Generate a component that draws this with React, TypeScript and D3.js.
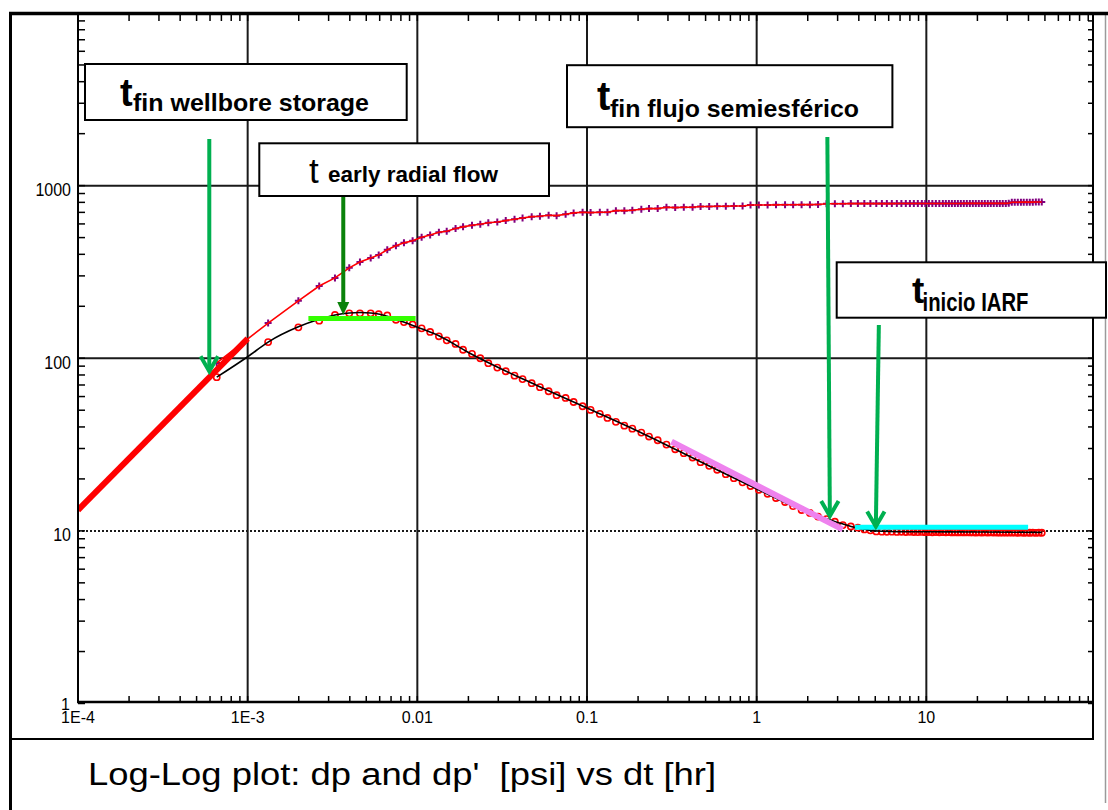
import React from "react";
import * as d3 from "d3";

// Elapsed time since shut-in [hr]
const timeHr = [
  6.57e-4, 1.32e-3, 1.99e-3, 2.64e-3, 3.27e-3, 3.97e-3, 4.59e-3, 5.31e-3, 5.92e-3, 6.65e-3,
  7.48e-3, 8.34e-3, 9.38e-3, 0.0106, 0.0119, 0.0134, 0.0149, 0.0168, 0.0186, 0.021,
  0.0235, 0.0262, 0.0296, 0.0332, 0.0374, 0.0417, 0.0472, 0.0528, 0.0594, 0.0662,
  0.0748, 0.0834, 0.0942, 0.105, 0.119, 0.132, 0.148, 0.166, 0.185, 0.209,
  0.232, 0.261, 0.294, 0.331, 0.372, 0.419, 0.467, 0.525, 0.585, 0.658,
  0.734, 0.826, 0.92, 1.03, 1.16, 1.3, 1.47, 1.64, 1.84, 2.06,
  2.3, 2.58, 2.89, 3.22, 3.59, 3.95, 4.31, 4.68, 5.07, 5.47,
  5.85, 6.26, 6.7, 7.13, 7.57, 8.0, 8.44, 8.91, 9.41, 9.86,
  10.35, 10.85, 11.38, 11.93, 12.51, 13.03, 13.58, 14.14, 14.73, 15.34,
  15.97, 16.63, 17.32, 18.05, 18.79, 19.57, 20.38, 21.23, 22.11, 23.02,
  23.98, 24.97, 26.03, 27.1, 28.2, 29.4, 30.6, 31.9, 33.2, 34.6,
  36.1, 37.5, 39.1, 40.7, 42.4, 44.2, 46.0, 47.9,
];

// Pressure change dp [psi]
const dpPsi = [
  94, 160, 215, 262, 292, 334, 361, 381, 397, 425,
  448, 466, 480, 502, 518, 537, 544, 564, 577, 590,
  598, 610, 616, 627, 639, 650, 661, 665, 674, 670,
  683, 695, 701, 698, 701, 701, 716, 716, 720, 730,
  736, 736, 750, 746, 750, 750, 757, 757, 760, 760,
  762, 762, 772, 773, 773, 774, 775, 775, 776, 776,
  777, 786, 786, 786, 787, 787, 787, 787, 787, 787,
  787, 787, 788, 788, 788, 788, 788, 788, 788, 788,
  788, 788, 788, 788, 788, 788, 788, 788, 788, 788,
  788, 789, 789, 789, 789, 789, 789, 789, 789, 789,
  789, 789, 789, 789, 789, 789, 790, 801, 801, 801,
  802, 802, 802, 802, 802, 803, 803, 803,
];

// Pressure derivative dp' [psi]
const dpDerivPsi = [
  77.7, 124, 151, 165, 178, 182, 182, 182, 180, 177,
  167, 162, 157, 149, 142, 134, 127, 121, 112, 106,
  100, 93.6, 88.3, 84.1, 79.3, 75.7, 71.7, 68.0, 64.4, 61.1,
  58.9, 55.8, 52.7, 50.2, 47.6, 45.1, 42.8, 40.7, 39.1, 37.1,
  35.2, 33.5, 31.6, 29.7, 28.2, 26.6, 25.0, 23.8, 22.6, 21.3,
  20.2, 19.1, 18.2, 17.3, 16.4, 15.5, 14.7, 13.9, 13.2, 12.7,
  12.1, 11.7, 11.3, 10.8, 10.6, 10.45, 10.2, 10.07, 9.93, 9.9,
  9.88, 9.9, 9.86, 9.88, 9.85, 9.87, 9.85, 9.84, 9.86, 9.83,
  9.85, 9.82, 9.84, 9.82, 9.83, 9.81, 9.83, 9.8, 9.82, 9.8,
  9.81, 9.79, 9.81, 9.79, 9.8, 9.78, 9.8, 9.78, 9.79, 9.77,
  9.79, 9.77, 9.78, 9.76, 9.78, 9.76, 9.77, 9.76, 9.77, 9.75,
  9.77, 9.75, 9.76, 9.75, 9.76, 9.74, 9.76, 9.75,
];

// Matched model derivative curve
const modelTime = [
  6.57e-4, 1e-3, 1.32e-3, 1.99e-3, 2.64e-3, 3.27e-3, 3.97e-3, 4.6e-3, 5.3e-3, 6.0e-3,
  6.65e-3, 7.5e-3, 8.3e-3, 9.4e-3, 0.0106, 0.0134, 0.02, 0.05, 0.1, 0.2,
  0.5, 1, 2, 2.6, 3.2, 3.6, 4.0, 4.6, 5.5, 7, 10, 20, 48,
];
const modelDeriv = [
  77.7, 102, 124, 152, 168, 178, 183, 184, 183, 180,
  175, 168, 162, 155, 148, 135, 108, 70, 51.5, 37.8,
  24.3, 17.5, 12.8, 11.7, 11.0, 10.6, 10.35, 10.1, 9.95, 9.9, 9.88, 9.85, 9.8,
];

// Flow-regime straight lines
const unitSlopeT = [1e-4, 1e-3];
const unitSlopeP = [13.2, 130];
const radialT = [2.28e-3, 9.77e-3];
const radialD = [170, 170];
const sphericalT = [0.315, 3.21];
const sphericalD = [32.9, 10.2];
const iarfT = [3.79, 39.8];
const iarfD = [10.5, 10.5];

// Axis labels
const xTickValues = [1e-4, 1e-3, 0.01, 0.1, 1, 10];
const xTickLabels = ["1E-4", "1E-3", "0.01", "0.1", "1", "10"];
const yTickValues = [1, 10, 100, 1000];
const yTickLabels = ["1", "10", "100", "1000"];

// Arrows pointing at regime limits (data units)
const arrows = [
  { t0: 5.94e-4, v0: 1860, t1: 5.94e-4, v1: 84, color: "#00b050", head: "open" },
  { t0: 3.66e-3, v0: 870, t1: 3.66e-3, v1: 178, color: "#0a820a", head: "solid" },
  { t0: 2.61, v0: 1915, t1: 2.7, v1: 12.2, color: "#00b050", head: "open" },
  { t0: 5.25, v0: 156, t1: 5.04, v1: 10.6, color: "#00b050", head: "open" },
];

const FONT = "'Liberation Sans', Arial, Helvetica, sans-serif";

export default function App() {
  const left = 78;
  const right = 1093;
  const top = 15;
  const bottom = 702;

  const x = d3.scaleLog().domain([1e-4, 100]).range([78, 1096]);
  const y = d3.scaleLog().domain([1, 10000]).range([703.5, 13]);

  const xMinor = x.ticks().filter((t) => x(t) <= right - 1);
  const yMinor = y.ticks().filter((v) => y(v) >= top + 1);

  const idx = d3.range(timeHr.length);
  const pLine = d3
    .line<number>()
    .x((i) => x(timeHr[i]))
    .y((i) => y(dpPsi[i]))(idx);
  const mLine = d3
    .line<number>()
    .x((i) => x(modelTime[i]))
    .y((i) => y(modelDeriv[i]))
    .curve(d3.curveMonotoneX)(d3.range(modelTime.length));

  const seg = (ts: number[], vs: number[]) =>
    d3.line<number>().x((i) => x(ts[i])).y((i) => y(vs[i]))([0, 1]) as string;

  return (
    <div style={{ position: "absolute", left: 0, top: 0, width: 1108, height: 810, background: "#fff" }}>
      <svg width={1108} height={810} style={{ display: "block", fontFamily: FONT }}>
        <defs>
          <clipPath id="plotArea">
            <rect x={left} y={top} width={right - left} height={bottom - top} />
          </clipPath>
        </defs>
        <rect x={0} y={0} width={1108} height={810} fill="#fff" />

        {/* grid */}
        {xTickValues.slice(1).map((t) => (
          <line key={"gx" + t} x1={x(t)} x2={x(t)} y1={top} y2={bottom} stroke="#1a1a1a" strokeWidth={2} />
        ))}
        {yTickValues.slice(1).map((v) => (
          <line
            key={"gy" + v}
            x1={left}
            x2={right}
            y1={y(v)}
            y2={y(v)}
            stroke="#1a1a1a"
            strokeWidth={2}
            strokeDasharray={v === 10 ? "2,2" : undefined}
          />
        ))}

        {/* minor ticks */}
        {xMinor.map((t, i) => (
          <g key={"tx" + i}>
            <line x1={x(t)} x2={x(t)} y1={bottom} y2={bottom - 6} stroke="#000" strokeWidth={1.5} />
            <line x1={x(t)} x2={x(t)} y1={top} y2={top + 6} stroke="#000" strokeWidth={1.5} />
          </g>
        ))}
        {yMinor.map((v, i) => (
          <g key={"ty" + i}>
            <line x1={left} x2={left + 7} y1={y(v)} y2={y(v)} stroke="#000" strokeWidth={1.5} />
            <line x1={right} x2={right - 5} y1={y(v)} y2={y(v)} stroke="#000" strokeWidth={1.5} />
          </g>
        ))}

        <g clipPath="url(#plotArea)">
          {/* dp markers and line */}
          {idx.map((i) => {
            const cx = x(timeHr[i]);
            const cy = y(dpPsi[i]);
            return (
              <path
                key={"p" + i}
                d={`M${cx - 3.5},${cy}H${cx + 3.5}M${cx},${cy - 3.5}V${cy + 3.5}`}
                stroke="#800080"
                strokeWidth={2}
                fill="none"
              />
            );
          })}
          <path d={pLine as string} fill="none" stroke="#ff0000" strokeWidth={1.6} />

          {/* derivative markers and model */}
          {idx.map((i) => (
            <circle
              key={"d" + i}
              cx={x(timeHr[i])}
              cy={y(dpDerivPsi[i])}
              r={3.1}
              fill="none"
              stroke="#ff0000"
              strokeWidth={1.6}
            />
          ))}
          <path d={mLine as string} fill="none" stroke="#000" strokeWidth={1.6} />

          {/* regime lines */}
          <path d={seg(unitSlopeT, unitSlopeP)} stroke="#ff0000" strokeWidth={6} fill="none" />
          <path d={seg(radialT, radialD)} stroke="#33ff00" strokeWidth={5} fill="none" />
          <path d={seg(sphericalT, sphericalD)} stroke="#ee82ee" strokeWidth={6} fill="none" />
          <path d={seg(iarfT, iarfD)} stroke="#00ffff" strokeWidth={5} fill="none" />
        </g>

        {/* arrows */}
        {arrows.map((a, i) => {
          const x0 = x(a.t0);
          const y0 = y(a.v0);
          const x1 = x(a.t1);
          const y1 = y(a.v1);
          if (a.head === "solid") {
            return (
              <g key={"a" + i}>
                <line x1={x0} y1={y0} x2={x1} y2={y1 - 10} stroke={a.color} strokeWidth={4} />
                <path d={`M${x1 - 6},${y1 - 13}L${x1 + 6},${y1 - 13}L${x1},${y1}Z`} fill={a.color} />
              </g>
            );
          }
          return (
            <g key={"a" + i}>
              <line x1={x0} y1={y0} x2={x1} y2={y1} stroke={a.color} strokeWidth={4} />
              <path
                d={`M${x1 - 8.7},${y1 - 15}L${x1},${y1}L${x1 + 8.7},${y1 - 15}`}
                fill="none"
                stroke={a.color}
                strokeWidth={4}
                strokeLinejoin="miter"
              />
            </g>
          );
        })}

        {/* tick labels */}
        {xTickValues.map((t, i) => (
          <text key={"lx" + i} x={x(t)} y={722.5} fontSize={16} textAnchor="middle" fill="#000">
            {xTickLabels[i]}
          </text>
        ))}
        {yTickValues.map((v, i) =>
          v === 1 ? (
            <text key={"ly" + i} x={70} y={y(v) + 6.5} fontSize={16} textAnchor="end" fill="#000">
              {yTickLabels[i]}
            </text>
          ) : (
            <text
              key={"ly" + i}
              x={71}
              y={y(v) + 10.5}
              fontSize={18}
              textAnchor="end"
              fill="#000"
              textLength={yTickLabels[i].length * 8.9}
              lengthAdjust="spacingAndGlyphs"
            >
              {yTickLabels[i]}
            </text>
          )
        )}

        {/* plot frame and outer border */}
        <line x1={left} x2={left} y1={top} y2={bottom + 1} stroke="#000" strokeWidth={2} />
        <line x1={left - 1} x2={right + 1} y1={bottom} y2={bottom} stroke="#000" strokeWidth={2.5} />
        <line x1={right} x2={right} y1={top} y2={739} stroke="#000" strokeWidth={2} />
        <line x1={10} x2={right + 1} y1={739} y2={739} stroke="#000" strokeWidth={1.8} />
        <line x1={1105.5} x2={1105.5} y1={15} y2={803} stroke="#9a9a9a" strokeWidth={1.5} />
        <line x1={9} x2={1108} y1={13.5} y2={13.5} stroke="#000" strokeWidth={3.5} />
        <line x1={10.5} x2={10.5} y1={12} y2={810} stroke="#000" strokeWidth={3} />

        {/* caption */}
        <text
          x={88}
          y={785}
          fontSize={31}
          fill="#000"
          textLength={628}
          lengthAdjust="spacingAndGlyphs"
          style={{ whiteSpace: "pre" }}
        >
          {"Log-Log plot: dp and dp'  [psi] vs dt [hr]"}
        </text>

        {/* annotation boxes */}
        <g>
          <rect x={85} y={64} width={321.7} height={56} fill="#fff" stroke="#000" strokeWidth={2} />
          <text x={120} y={106} fontSize={38} fontWeight="bold">t</text>
          <text x={133} y={111} fontSize={24} fontWeight="bold" textLength={236} lengthAdjust="spacingAndGlyphs">
            fin wellbore storage
          </text>
        </g>
        <g>
          <rect x={259.3} y={143.3} width={289.7} height={52.7} fill="#fff" stroke="#000" strokeWidth={2} />
          <text x={309} y={183} fontSize={35}>t</text>
          <text x={328} y={182} fontSize={22} fontWeight="bold" textLength={170} lengthAdjust="spacingAndGlyphs">
            early radial flow
          </text>
        </g>
        <g>
          <rect x={567} y={65.2} width={325.4} height={62} fill="#fff" stroke="#000" strokeWidth={2} />
          <text x={597} y={110} fontSize={40} fontWeight="bold">t</text>
          <text x={610} y={117} fontSize={24} fontWeight="bold" textLength={249} lengthAdjust="spacingAndGlyphs">
            fin flujo semiesférico
          </text>
        </g>
        <g>
          <rect x={836.7} y={262.3} width={269.3} height={55.4} fill="#fff" stroke="#000" strokeWidth={2} />
          <text x={912} y={303} fontSize={37} fontWeight="bold">t</text>
          <text x={922.5} y={311} fontSize={25} fontWeight="bold" textLength={106} lengthAdjust="spacingAndGlyphs">
            inicio IARF
          </text>
        </g>
      </svg>
    </div>
  );
}
